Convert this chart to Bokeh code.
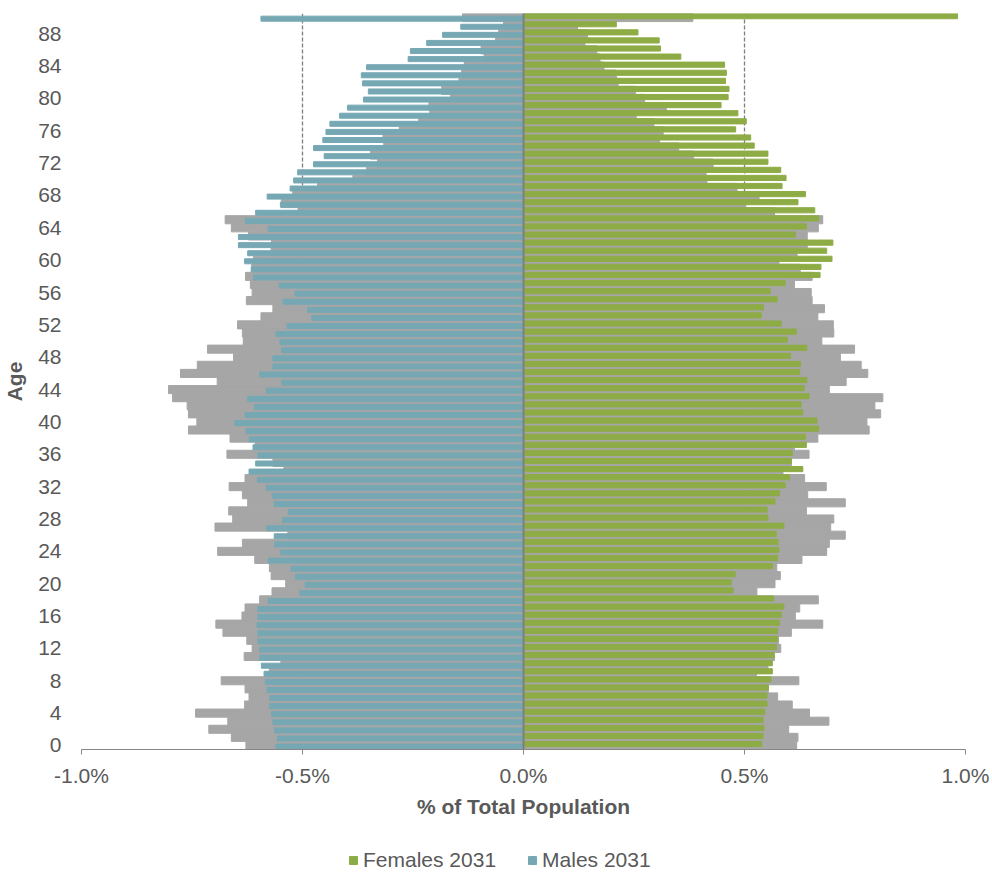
from bokeh.plotting import figure
from bokeh.layouts import column
from bokeh.models import ColumnDataSource, FixedTicker, Span, Legend, LegendItem, Range1d
from bokeh.embed import file_html
from bokeh.resources import INLINE

ages = list(range(91))

males_2031 = [-0.560, -0.557, -0.563, -0.567, -0.570, -0.575, -0.574, -0.580, -0.584, -0.587,
              -0.593, -0.597, -0.597, -0.601, -0.601, -0.603, -0.601, -0.601, -0.578, -0.506,
              -0.494, -0.516, -0.526, -0.577, -0.549, -0.563, -0.564, -0.581, -0.545, -0.532,
              -0.564, -0.569, -0.582, -0.602, -0.621, -0.606, -0.601, -0.612, -0.621, -0.628,
              -0.653, -0.630, -0.609, -0.624, -0.582, -0.547, -0.597, -0.567, -0.567, -0.547,
              -0.551, -0.560, -0.535, -0.479, -0.488, -0.544, -0.517, -0.553, -0.611, -0.616,
              -0.631, -0.624, -0.645, -0.645, -0.578, -0.629, -0.606, -0.550, -0.580, -0.528,
              -0.520, -0.511, -0.475, -0.451, -0.475, -0.454, -0.447, -0.438, -0.416, -0.398,
              -0.362, -0.351, -0.364, -0.367, -0.355, -0.261, -0.256, -0.219, -0.183, -0.142,
              -0.594]

females_2031 = [0.539, 0.542, 0.544, 0.542, 0.546, 0.551, 0.551, 0.554, 0.560, 0.563,
                0.563, 0.567, 0.572, 0.575, 0.575, 0.579, 0.583, 0.589, 0.566, 0.474,
                0.470, 0.479, 0.563, 0.575, 0.578, 0.576, 0.572, 0.589, 0.553, 0.551,
                0.569, 0.579, 0.592, 0.602, 0.632, 0.606, 0.608, 0.640, 0.638, 0.668,
                0.664, 0.632, 0.628, 0.646, 0.635, 0.641, 0.625, 0.627, 0.604, 0.641,
                0.597, 0.617, 0.583, 0.538, 0.543, 0.574, 0.558, 0.592, 0.671, 0.673,
                0.698, 0.686, 0.700, 0.615, 0.640, 0.668, 0.659, 0.621, 0.638, 0.585,
                0.594, 0.582, 0.553, 0.553, 0.522, 0.514, 0.480, 0.504, 0.485, 0.447,
                0.463, 0.465, 0.457, 0.459, 0.455, 0.356, 0.310, 0.307, 0.259, 0.210,
                0.982]

males_base = [-0.628, -0.661, -0.712, -0.669, -0.742, -0.631, -0.621, -0.630, -0.684, -0.575,
              -0.549, -0.632, -0.614, -0.626, -0.680, -0.696, -0.637, -0.630, -0.597, -0.569,
              -0.538, -0.571, -0.575, -0.608, -0.692, -0.636, -0.533, -0.698, -0.658, -0.667,
              -0.624, -0.636, -0.666, -0.630, -0.542, -0.567, -0.671, -0.607, -0.664, -0.758,
              -0.739, -0.758, -0.761, -0.794, -0.803, -0.693, -0.776, -0.738, -0.656, -0.715,
              -0.634, -0.636, -0.647, -0.594, -0.567, -0.627, -0.614, -0.618, -0.629, -0.615,
              -0.611, -0.571, -0.570, -0.622, -0.661, -0.675, -0.510, -0.548, -0.522, -0.466,
              -0.386, -0.355, -0.330, -0.346, -0.316, -0.318, -0.281, -0.237, -0.212, -0.214,
              -0.165, -0.185, -0.146, -0.140, -0.134, -0.089, -0.096, -0.063, -0.056, -0.045,
              -0.138]

females_base = [0.618, 0.621, 0.600, 0.691, 0.647, 0.608, 0.575, 0.554, 0.623, 0.527,
                0.553, 0.568, 0.582, 0.577, 0.606, 0.677, 0.615, 0.625, 0.667, 0.528,
                0.569, 0.581, 0.573, 0.630, 0.686, 0.692, 0.728, 0.695, 0.702, 0.640,
                0.728, 0.643, 0.685, 0.636, 0.587, 0.606, 0.646, 0.613, 0.666, 0.782,
                0.777, 0.808, 0.795, 0.813, 0.692, 0.730, 0.779, 0.764, 0.717, 0.749,
                0.675, 0.702, 0.701, 0.666, 0.681, 0.653, 0.651, 0.613, 0.653, 0.626,
                0.578, 0.619, 0.642, 0.642, 0.667, 0.677, 0.568, 0.503, 0.533, 0.483,
                0.415, 0.413, 0.429, 0.385, 0.351, 0.308, 0.316, 0.295, 0.255, 0.323,
                0.274, 0.253, 0.214, 0.210, 0.182, 0.173, 0.166, 0.139, 0.145, 0.122,
                0.383]

x_ticks = [-1.0, -0.5, 0.0, 0.5, 1.0]
x_tick_labels = ["-1.0%", "-0.5%", "0.0%", "0.5%", "1.0%"]
y_ticks = list(range(0, 89, 4))
legend_labels = ["Females 2031", "Males 2031"]

GREEN = "#8EAC46"
BLUE = "#76A8B4"
GREY = "#A6A6A6"
TXT = "#595959"
FONT = "Liberation Sans"
FS = "21px"

src = ColumnDataSource(dict(
    age=ages,
    y_f=[a + 0.17 for a in ages],
    y_m=[a - 0.14 for a in ages],
    m31=males_2031, f31=females_2031, mb=males_base, fb=females_base,
    zero=[0.0] * len(ages),
))

p = figure(width=992, height=832, x_range=(-1.0, 1.0), y_range=(-0.5, 90.5),
           output_backend="svg", toolbar_location=None,
           min_border_left=80, min_border_right=27, min_border_top=13, min_border_bottom=83)
p.outline_line_color = None

p.hbar(y="age", left="mb", right="zero", height=1.0, color=GREY, source=src)
p.hbar(y="age", left="zero", right="fb", height=1.0, color=GREY, source=src)
p.hbar(y="y_f", left="zero", right="f31", height=0.64, color=GREEN, source=src)
p.hbar(y="y_m", left="m31", right="zero", height=0.62, color=BLUE, source=src)

p.add_layout(Span(location=0, dimension="height", line_color="#7F7F7F", line_width=2))

p.xgrid.ticker = FixedTicker(ticks=x_ticks)
p.xgrid.grid_line_color = "#7F7F7F"
p.xgrid.grid_line_dash = "4 2"
p.xgrid.grid_line_width = 1.3
p.ygrid.grid_line_color = None

p.xaxis.ticker = FixedTicker(ticks=x_ticks)
p.xaxis.major_label_overrides = dict(zip(x_ticks, x_tick_labels))
p.xaxis.axis_line_color = "#868686"
p.xaxis.major_tick_line_color = "#868686"
p.xaxis.major_tick_out = 5
p.xaxis.major_tick_in = 0
p.xaxis.minor_tick_line_color = None
p.xaxis.major_label_standoff = 9
p.xaxis.axis_label = "% of Total Population"
p.xaxis.axis_label_standoff = 5

p.yaxis.ticker = FixedTicker(ticks=y_ticks)
p.yaxis.axis_line_color = None
p.yaxis.major_tick_line_color = None
p.yaxis.minor_tick_line_color = None
p.yaxis.major_tick_out = 0
p.yaxis.major_label_standoff = 20
p.yaxis.axis_label = "Age"
p.yaxis.axis_label_standoff = 9

for ax in (p.xaxis, p.yaxis):
    ax.major_label_text_font = FONT
    ax.major_label_text_font_size = FS
    ax.major_label_text_color = TXT
    ax.axis_label_text_font = FONT
    ax.axis_label_text_font_size = FS
    ax.axis_label_text_font_style = "bold"
    ax.axis_label_text_color = TXT

# Legend strip below the chart (its renderers use the real series, kept out of view)
lf = figure(width=992, height=40, x_range=(-1.0, 1.0), y_range=Range1d(1000, 1001),
            output_backend="svg", toolbar_location=None, min_border=0)
lf.axis.visible = False
lf.grid.grid_line_color = None
lf.outline_line_color = None
lr_f = lf.hbar(y="age", left="zero", right="f31", height=0.64, color=GREEN, source=src)
lr_m = lf.hbar(y="age", left="m31", right="zero", height=0.62, color=BLUE, source=src)

legend = Legend(items=[LegendItem(label=legend_labels[0], renderers=[lr_f]),
                       LegendItem(label=legend_labels[1], renderers=[lr_m])],
                orientation="horizontal", location=(267, 0))
legend.glyph_width = 10
legend.glyph_height = 10
legend.label_standoff = 5
legend.spacing = 31
legend.padding = 0
legend.margin = 0
legend.border_line_color = None
legend.background_fill_alpha = 0
legend.label_text_font = FONT
legend.label_text_font_size = FS
legend.label_text_color = TXT
legend.label_height = 20
lf.add_layout(legend, "center")

open("out.html", "w").write(file_html(column(p, lf, spacing=0), INLINE))
